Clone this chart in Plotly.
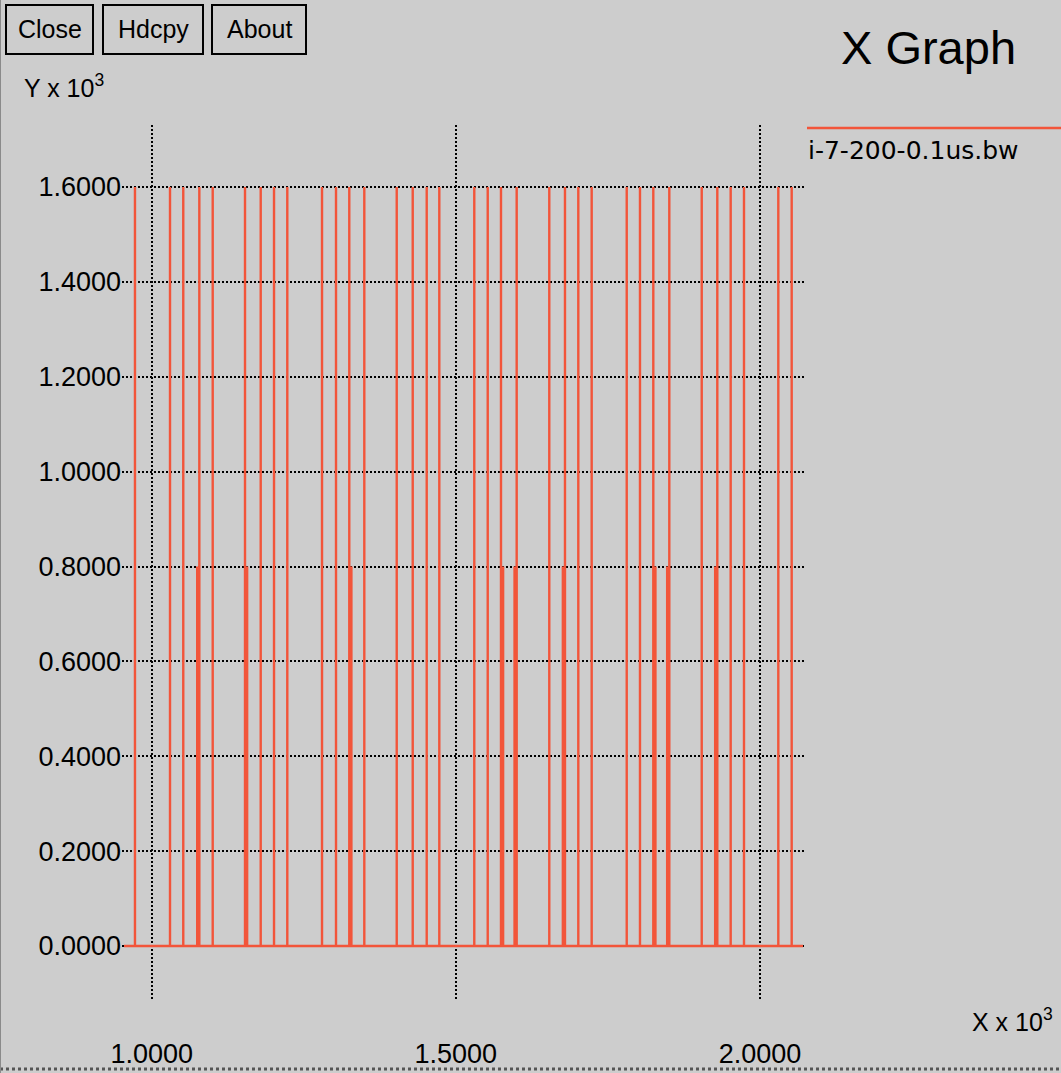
import plotly.graph_objects as go

# Waveform i-7-200-0.1us.bw: narrow pulses on a zero baseline (raw units)
x_start = 954.5
x_end = 2070.7
full_pulse_x = [972.5, 1030.1, 1051.9, 1078.3, 1100.3, 1153.4, 1179.2, 1201.1,
                1222.9, 1280.0, 1303.0, 1324.8, 1349.5, 1402.8, 1429.1, 1452.1,
                1472.8, 1530.3, 1552.4, 1574.2, 1600.0, 1653.6, 1679.4, 1701.3,
                1723.3, 1780.9, 1802.7, 1824.6, 1850.9, 1904.2, 1929.8, 1951.8,
                1973.7, 2030.1, 2052.1]
full_pulse_y = 1600.0
half_pulse_x = [1074.8, 1156.9, 1328.3, 1577.7, 1596.5, 1675.9, 1828.1,
                1847.4, 1926.3]
half_pulse_y = 800.0

x_ticks = [1.0, 1.5, 2.0]
y_ticks = [0.0, 0.2, 0.4, 0.6, 0.8, 1.0, 1.2, 1.4, 1.6]
scale = 1000.0  # axes are shown in units of 10^3

series_name = "i-7-200-0.1us.bw"
red = "#f2553a"
bg = "#cdcdcd"
font_main = "Liberation Sans, Arial, sans-serif"
font_legend = "DejaVu Sans, sans-serif"

# build the pulse train path
events = sorted([(x, full_pulse_y) for x in full_pulse_x] +
                [(x, half_pulse_y) for x in half_pulse_x])
xs, ys = [x_start], [0.0]
for x, h in events:
    xs += [x, x, x]
    ys += [0.0, h, 0.0]
xs.append(x_end)
ys.append(0.0)
xs = [v / scale for v in xs]
ys = [v / scale for v in ys]

W, H = 1061, 1073
L, R, T, B = 122, 805, 125, 1000


def px(xp):
    return (xp - L) / (R - L)


def py(yp):
    return (B - yp) / (B - T)


fig = go.Figure()
fig.add_trace(go.Scatter(x=xs, y=ys, mode="lines", name=series_name,
                         line=dict(color=red, width=2.4), showlegend=False,
                         hoverinfo="skip"))

x0 = 1 + (L - 151.7) / 608.3
x1 = 1 + (R - 151.7) / 608.3
y0 = -(B - 946) / 474.375
y1 = (946 - T) / 474.375

axis_common = dict(showgrid=True, gridcolor="black", gridwidth=2,
                   griddash="2px,2px", zeroline=False, showline=False,
                   ticks="", tickformat=".4f", automargin=False,
                   tickfont=dict(family=font_main, size=27, color="black"))

fig.update_xaxes(range=[x0, x1], tickvals=x_ticks, ticklabelstandoff=35,
                 **axis_common)
fig.update_yaxes(range=[y0, y1], tickvals=y_ticks, ticklabelstandoff=0,
                 **axis_common)

shapes = []
annotations = []

# window buttons
for label, xa, xb in [("Close", 6, 93), ("Hdcpy", 103, 203), ("About", 212, 306)]:
    shapes.append(dict(type="rect", xref="paper", yref="paper",
                       x0=px(xa), x1=px(xb), y0=py(54), y1=py(5),
                       line=dict(color="black", width=2), fillcolor=bg))
    annotations.append(dict(text=label, xref="paper", yref="paper",
                            x=px((xa + xb) / 2), y=py(29), showarrow=False,
                            xanchor="center", yanchor="middle",
                            font=dict(family=font_main, size=25, color="black")))

# title
annotations.append(dict(text="X Graph", xref="paper", yref="paper",
                        x=px(929), y=py(48), showarrow=False,
                        xanchor="center", yanchor="middle",
                        font=dict(family=font_main, size=47, color="black")))

# axis unit labels
annotations.append(dict(text="Y x 10<sup>3</sup>", xref="paper", yref="paper",
                        x=px(22), y=py(86), showarrow=False,
                        xanchor="left", yanchor="middle",
                        font=dict(family=font_main, size=25, color="black")))
annotations.append(dict(text="X x 10<sup>3</sup>", xref="paper", yref="paper",
                        x=px(1055), y=py(1020), showarrow=False,
                        xanchor="right", yanchor="middle",
                        font=dict(family=font_main, size=25, color="black")))

# legend entry
shapes.append(dict(type="line", xref="paper", yref="paper",
                   x0=px(807), x1=px(1061), y0=py(128), y1=py(128),
                   line=dict(color=red, width=2.4)))
annotations.append(dict(text=series_name, xref="paper", yref="paper",
                        x=px(806), y=py(151), showarrow=False,
                        xanchor="left", yanchor="middle",
                        font=dict(family=font_legend, size=25, color="black")))

# window frame edges
shapes.append(dict(type="line", xref="paper", yref="paper",
                   x0=px(0), x1=px(W), y0=py(1069), y1=py(1069),
                   line=dict(color="#555555", width=3, dash="dot")))
shapes.append(dict(type="line", xref="paper", yref="paper",
                   x0=px(0.5), x1=px(0.5), y0=py(0), y1=py(H),
                   line=dict(color="#8a8a8a", width=1)))

fig.update_layout(width=W, height=H, margin=dict(l=L, r=W - R, t=T, b=H - B),
                  paper_bgcolor=bg, plot_bgcolor=bg, showlegend=False,
                  shapes=shapes, annotations=annotations)

fig.write_html("out.html")
